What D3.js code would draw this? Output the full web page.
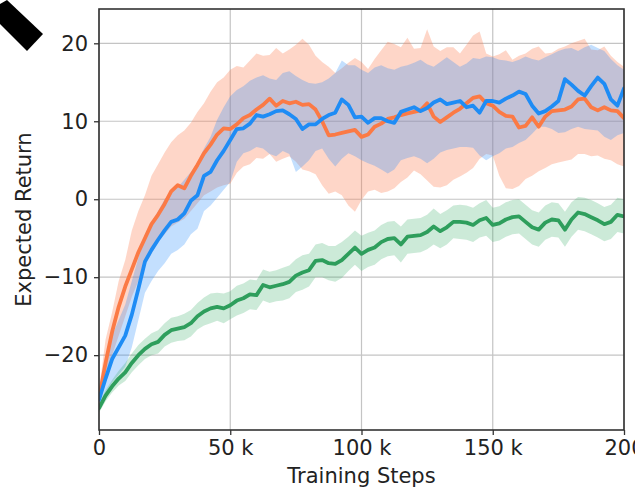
<!DOCTYPE html>
<html>
<head>
<meta charset="utf-8">
<script src="https://cdn.jsdelivr.net/npm/d3@7/dist/d3.min.js"></script>
<style>
  html, body { margin: 0; padding: 0; background: #fff; }
  svg { display: block; font-family: "DejaVu Sans", sans-serif; }
</style>
</head>
<body>
<svg id="chart" width="635" height="490"></svg>
<script>
// Training steps (thousands), sampled every 2.5k
const steps = d3.range(0, 200.001, 2.5);

// Orange run: mean and shaded spread
const orangeMean = [-25.5,-21,-17,-13.8,-11.2,-9,-6.8,-5,-3.2,-2,-0.6,1.0,1.8,1.4,3.0,4.4,5.9,7.0,8.3,9.1,
  9.0,9.6,10.4,10.8,11.5,12.1,12.9,12.0,12.6,12.3,12.5,12.1,12.2,11.5,10.0,8.2,8.3,8.5,8.7,8.9,
  8.0,8.3,9.3,9.7,10.3,10.5,10.8,11.0,11.2,11.4,12.3,10.6,9.9,10.5,11.1,11.6,12.3,13.0,13.2,12.3,
  12.0,11.2,10.7,10.6,9.2,9.4,10.5,9.3,10.6,11.3,11.4,11.5,11.9,12.8,12.9,11.8,11.4,11.8,11.4,11.3,10.4];
const orangeUpper = [-24.5,-18,-14.5,-10.5,-7.8,-4,-1.5,0.5,3.0,4.5,6.0,7.3,8.2,8.8,9.8,11.2,12.3,13.8,15.0,15.6,
  16.6,17.1,16.9,17.8,18.7,18.4,18.5,19.4,18.7,19.2,19.8,20.6,19.8,18.4,17.6,17.0,16.2,16.8,17.5,18.1,
  17.6,16.7,18.0,19.1,20.2,19.9,19.5,20.7,19.3,19.4,21.8,19.6,19.0,19.5,19.5,18.7,19.8,21.0,21.5,18.7,
  18.3,18.6,19.1,17.9,18.4,18.7,19.3,19.6,18.7,18.8,19.3,19.6,20.0,20.3,20.6,19.2,19.1,19.6,18.4,17.6,17.0];
const orangeLower = [-26.5,-23.5,-20,-17.5,-15,-12.5,-10.5,-8.5,-7,-5.5,-4.5,-3.5,-3,-2.5,-1.5,-0.5,0.5,1.0,1.5,1.8,
  2.0,3.4,4.2,4.5,5.3,5.2,5.8,4.8,5.2,5.5,4.8,3.8,3.6,3.2,1.8,0.7,1.0,0.5,-0.8,-1.6,
  -0.1,1.0,1.2,0.8,1.0,1.4,2.2,2.8,3.7,3.2,2.4,1.6,1.5,1.8,2.5,2.9,3.4,4.0,5.2,5.8,
  5.6,3.0,1.4,1.3,1.7,2.6,3.0,3.6,4.0,4.5,4.7,4.9,5.1,5.8,5.8,5.5,5.6,5.2,5.0,4.5,4.2];

// Blue run
const blueMean = [-25.7,-23,-20.5,-19,-17.5,-14.8,-11.5,-8,-6.5,-5.2,-4.0,-2.9,-2.6,-1.8,-0.2,0.5,3.0,3.5,5.0,6.2,
  7.6,9.0,9.1,9.7,10.8,10.6,10.9,11.3,11.4,10.9,10.3,9.0,9.6,9.6,10.3,10.8,11.1,12.8,12.1,10.5,
  10.6,9.8,10.4,10.4,10.0,9.8,11.2,11.5,11.8,11.3,11.7,12.4,12.8,12.2,12.4,12.6,11.8,12.0,11.1,12.6,
  12.6,12.4,12.9,13.3,13.8,13.5,12.0,11.0,11.3,11.9,12.6,15.4,14.7,13.9,13.3,14.5,15.6,14.8,12.8,12.0,14.2];
const blueUpper = [-25,-21,-17.5,-15.5,-13.5,-10.5,-7.5,-4.5,-3,-1.5,0,1,1.5,2.5,3.5,4.7,6.5,8.0,10.2,11.8,
  13.2,14.0,14.5,15.2,15.6,15.9,15.5,15.3,16.2,16.4,15.8,15.3,14.9,14.8,15.0,15.5,16.2,17.8,17.2,17.2,
  16.6,16.2,16.9,17.2,16.8,16.6,17.0,17.2,17.5,17.9,17.3,17.0,17.6,18.2,17.6,17.0,17.4,18.1,18.0,18.3,
  18.2,17.9,17.8,17.6,17.9,18.3,18.0,17.8,18.2,18.6,19.0,19.3,19.4,19.0,19.5,19.8,19.4,19.0,18.0,17.2,16.6];
const blueLower = [-26.5,-25,-23.5,-22.5,-21.5,-19,-15.5,-12,-10.5,-9.2,-8.2,-7,-6.5,-5.8,-4.5,-3.8,-1.5,-0.8,0.2,1.2,
  2.2,4.8,5.9,6.2,6.7,6.5,5.8,5.5,6.2,5.8,3.5,4.2,5.0,6.2,6.5,5.2,4.2,5.2,5.9,5.5,
  5.0,4.6,4.3,3.8,3.3,3.8,5.0,5.3,5.5,5.2,4.6,5.2,6.0,6.3,6.5,6.7,6.7,6.6,5.6,5.0,
  5.5,5.9,6.5,6.7,7.2,7.6,8.4,9.3,9.3,9.0,8.5,8.6,9.0,9.3,9.0,8.9,8.8,8.0,7.6,8.2,8.5];

// Green run
const greenMean = [-26.8,-25.2,-24.0,-23.0,-22.2,-21.0,-20.0,-19.2,-18.6,-18.3,-17.4,-16.8,-16.6,-16.4,-15.9,-15.0,-14.4,-14.0,-13.8,-14.0,
  -13.6,-13.0,-12.7,-12.2,-12.3,-11.0,-11.3,-11.1,-10.9,-10.6,-9.8,-9.4,-9.1,-7.9,-7.8,-8.2,-8.3,-7.8,-7.0,-6.2,
  -7.0,-6.5,-6.2,-5.5,-5.1,-5.0,-5.8,-4.8,-4.7,-4.6,-4.2,-3.5,-4.1,-3.6,-2.9,-2.9,-3.0,-3.3,-2.7,-2.4,
  -3.3,-3.1,-2.6,-2.3,-2.2,-2.9,-3.6,-3.9,-3.0,-2.6,-2.7,-3.9,-2.6,-1.7,-1.9,-2.3,-2.7,-3.2,-2.9,-2.0,-2.2];
const greenUpper = [-26.2,-24.5,-23.2,-22.0,-21.0,-19.8,-18.7,-17.9,-17.2,-16.8,-15.9,-15.2,-15.0,-14.7,-14.2,-13.3,-12.6,-12.1,-12.0,-12.1,
  -11.8,-11.1,-10.8,-10.3,-10.4,-9.0,-9.3,-9.1,-8.8,-8.5,-7.7,-7.2,-7.0,-5.8,-5.6,-6.0,-6.0,-5.5,-4.8,-4.0,
  -4.7,-4.3,-4.0,-3.3,-2.9,-2.8,-3.5,-2.6,-2.5,-2.4,-2.0,-1.2,-1.9,-1.4,-0.8,-0.7,-0.8,-1.1,-0.5,-0.1,
  -1.1,-0.9,-0.4,-0.1,0.0,-0.7,-1.4,-1.7,-0.8,-0.4,-0.5,-1.6,-0.4,0.3,0.2,-0.1,-0.5,-1.0,-0.7,0.2,0.0];
const greenLower = [-27.4,-25.9,-24.8,-23.9,-23.3,-22.2,-21.3,-20.5,-20.0,-19.8,-18.9,-18.4,-18.2,-18.1,-17.6,-16.7,-16.2,-15.9,-15.6,-15.9,
  -15.4,-14.9,-14.6,-14.1,-14.2,-13.0,-13.3,-13.1,-13.0,-12.7,-11.9,-11.6,-11.2,-10.0,-10.0,-10.4,-10.6,-10.1,-9.2,-8.4,
  -9.2,-8.7,-8.4,-7.7,-7.3,-7.2,-8.1,-7.0,-6.9,-6.8,-6.4,-5.8,-6.3,-5.8,-5.0,-5.1,-5.2,-5.5,-4.9,-4.7,
  -5.5,-5.3,-4.8,-4.5,-4.4,-5.1,-5.8,-6.1,-5.2,-4.8,-4.9,-6.1,-4.8,-3.9,-4.1,-4.5,-4.9,-5.4,-5.1,-4.2,-4.4];

// Axis ticks and labels
const xTicks = [0, 50, 100, 150, 200];
const xTickLabels = ["0", "50 k", "100 k", "150 k", "200"];
const yTicks = [-20, -10, 0, 10, 20];
const xTitle = "Training Steps";
const yTitle = "Expected Return";

const svg = d3.select("#chart");
const plot = { left: 99, right: 624, top: 9, bottom: 430 };

const x = d3.scaleLinear().domain([0, 200]).range([plot.left, plot.right]);
const y = d3.scaleLinear().domain([-29.6, 24.4]).range([plot.bottom, plot.top]);

// Corner marker
svg.append("polygon")
  .attr("points", "7,0 43,34 27,51 0,24 0,4")
  .attr("fill", "#000");

// Grid
const grid = svg.append("g");
grid.selectAll("line.gx").data(xTicks).join("line")
  .attr("x1", d => x(d)).attr("x2", d => x(d))
  .attr("y1", plot.top).attr("y2", plot.bottom)
  .attr("stroke", "#c4c4c4").attr("stroke-width", 1.2);
grid.selectAll("line.gy").data(yTicks).join("line")
  .attr("x1", plot.left).attr("x2", plot.right)
  .attr("y1", d => y(d)).attr("y2", d => y(d))
  .attr("stroke", "#c4c4c4").attr("stroke-width", 1.2);

const series = [
  { mean: orangeMean, up: orangeUpper, lo: orangeLower, line: "#fb7a45", fill: "rgba(252,120,72,0.30)" },
  { mean: blueMean, up: blueUpper, lo: blueLower, line: "#1e8cf5", fill: "rgba(40,140,250,0.28)" },
  { mean: greenMean, up: greenUpper, lo: greenLower, line: "#2e9e5c", fill: "rgba(50,170,100,0.25)" }
];

svg.append("clipPath").attr("id", "plotclip").append("rect")
  .attr("x", plot.left).attr("y", plot.top)
  .attr("width", plot.right - plot.left).attr("height", plot.bottom - plot.top);

const area = d3.area()
  .x((d, i) => x(steps[i]))
  .y0(d => y(d[0]))
  .y1(d => y(d[1]));
const line = d3.line()
  .x((d, i) => x(steps[i]))
  .y(d => y(d));

const layer = svg.append("g").attr("clip-path", "url(#plotclip)");
series.forEach(s => {
  layer.append("path")
    .datum(s.lo.map((v, i) => [v, s.up[i]]))
    .attr("d", area)
    .attr("fill", s.fill);
});
// Lines: green first, then orange, blue on top
[series[2], series[0], series[1]].forEach(s => {
  layer.append("path")
    .datum(s.mean)
    .attr("d", line)
    .attr("fill", "none")
    .attr("stroke", s.line)
    .attr("stroke-width", 3.8)
    .attr("stroke-linejoin", "round")
    .attr("stroke-linecap", "round");
});

// Axes
const xAxis = d3.axisBottom(x).tickValues(xTicks)
  .tickFormat((d, i) => xTickLabels[i]).tickSize(5).tickPadding(5);
const yAxis = d3.axisLeft(y).tickValues(yTicks)
  .tickFormat(d => d < 0 ? "\u2212" + Math.abs(d) : String(d)).tickSize(5).tickPadding(6);

const gx = svg.append("g").attr("transform", `translate(0,${plot.bottom})`).call(xAxis);
const gy = svg.append("g").attr("transform", `translate(${plot.left},0)`).call(yAxis);
[gx, gy].forEach(g => {
  g.select(".domain").remove();
  g.selectAll(".tick line").attr("stroke", "#333").attr("stroke-width", 1.3);
  g.selectAll(".tick text").attr("fill", "#222").style("font-size", "21px")
    .style("font-family", "'DejaVu Sans', sans-serif");
});

// Frame
svg.append("rect")
  .attr("x", plot.left).attr("y", plot.top)
  .attr("width", plot.right - plot.left).attr("height", plot.bottom - plot.top)
  .attr("fill", "none").attr("stroke", "#333").attr("stroke-width", 1.6);

// Titles
svg.append("text")
  .attr("x", (plot.left + plot.right) / 2).attr("y", 483)
  .attr("text-anchor", "middle").attr("fill", "#222")
  .style("font-size", "21px").text(xTitle);
svg.append("text")
  .attr("transform", `translate(31,${(plot.top + plot.bottom) / 2}) rotate(-90)`)
  .attr("text-anchor", "middle").attr("fill", "#222")
  .style("font-size", "21px").text(yTitle);
</script>
</body>
</html>
